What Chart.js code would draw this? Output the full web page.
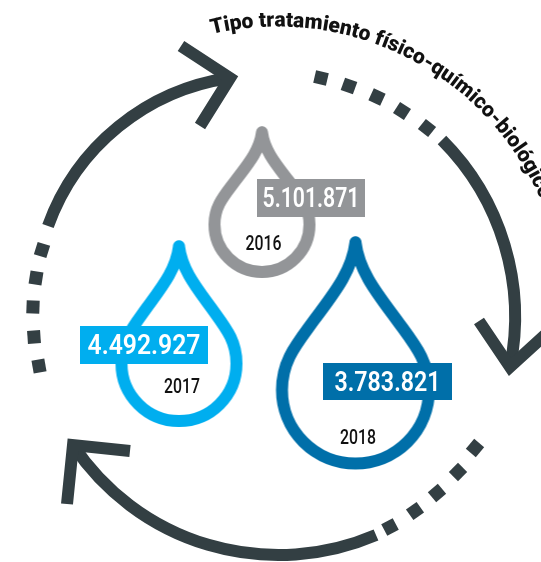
<!DOCTYPE html>
<html>
<head>
<meta charset="utf-8">
<script src="https://cdn.jsdelivr.net/npm/chart.js@4/dist/chart.umd.min.js"></script>
<style>
  html, body { margin: 0; padding: 0; background: #fff; }
  canvas { display: block; }
</style>
</head>
<body>
<canvas id="chart" width="541" height="562"></canvas>
<script>
// dados
const years = ['2016', '2017', '2018'];
const volumes = [5101871, 4492927, 3783821];
const title = 'Tipo tratamiento físico-químico-biológico';

// layout das gotas, em unidades da escala (0-541 / 0-562)
const dropX = [262, 179, 355.5];
const dropY = [224.5, 363.5, 390];
const dropR = [47.5, 57.5, 73.5];
const dropTip = [0.97, 1.02, 1.005];
const dropColors = ['#939598', '#00aeef', '#006fa9'];
const boxes = [[257, 179, 108, 38], [80, 326, 128, 38], [323, 363, 129, 37]];
const boxTextW = [97, 113, 106];
const yearPos = [[263.5, 244], [182, 387], [358, 438]];

const dark = '#333f43';
const STROKE = 12;

// setas: inicio, meio, vertice do arco e as duas pontas
const arrows = [
    { arc: [[48, 226], [127, 120], [230, 78]], arms: [[181, 46], [230, 78], [200, 126]] },
    { arc: [[442, 140], [515, 310], [510, 367]], arms: [[479, 321], [510, 367], [556, 325]] },
    { arc: [[376, 535], [273, 555], [73, 445]], arms: [[130, 451], [73, 445], [67, 504]] }
];
// quadrados pontilhados: x, y, rotacao em graus
const dashes = [
    [321, 78, 13], [349, 86, 20], [377, 97, 25], [402, 111, 33], [427, 128, 38],
    [42, 250, 17], [36, 278, 9], [33, 307, 2], [34, 337, -4], [39, 366, -10],
    [475, 448, -50], [458, 472, -45], [437, 493, -40], [415, 511, -35], [390, 527, -28]
];

// circulo que passa por 3 pontos
function circle3(a, b, c) {
    const d = 2 * (a[0] * (b[1] - c[1]) + b[0] * (c[1] - a[1]) + c[0] * (a[1] - b[1]));
    const s = p => p[0] * p[0] + p[1] * p[1];
    const x = (s(a) * (b[1] - c[1]) + s(b) * (c[1] - a[1]) + s(c) * (a[1] - b[1])) / d;
    const y = (s(a) * (c[0] - b[0]) + s(b) * (a[0] - c[0]) + s(c) * (b[0] - a[0])) / d;
    return { x, y, r: Math.hypot(a[0] - x, a[1] - y) };
}

// desenha a gota num canvas, usado como pointStyle
function dropImage(r, color, k) {
    const size = Math.ceil(2 * (2 * k * r + STROKE + 4));
    const cv = document.createElement('canvas');
    cv.width = size;
    cv.height = size;
    const c = cv.getContext('2d');
    c.translate(size / 2, size / 2);
    c.scale(r, r);
    c.beginPath();
    c.moveTo(0, -2 * k);
    c.bezierCurveTo(0.05, -1.6 * k, 0.3, -1.3 * k, 0.56, -0.95 * k);
    c.bezierCurveTo(0.8, -0.62 * k, 1, -0.4 * k, 1, 0);
    c.arc(0, 0, 1, 0, Math.PI);
    c.bezierCurveTo(-1, -0.4 * k, -0.8, -0.62 * k, -0.56, -0.95 * k);
    c.bezierCurveTo(-0.3, -1.3 * k, -0.05, -1.6 * k, 0, -2 * k);
    c.strokeStyle = color;
    c.lineWidth = STROKE / r;
    c.lineJoin = 'round';
    c.lineCap = 'round';
    c.stroke();
    return cv;
}

const cyclePlugin = {
    id: 'cycle',
    afterDatasetsDraw(chart) {
        const ctx = chart.ctx;
        const sx = chart.scales.x;
        const sy = chart.scales.y;
        const px = p => [sx.getPixelForValue(p[0]), sy.getPixelForValue(p[1])];

        ctx.save();
        ctx.strokeStyle = dark;
        ctx.fillStyle = dark;
        ctx.lineWidth = STROKE;

        arrows.forEach(ar => {
            const [a, m, b] = ar.arc.map(px);
            const o = circle3(a, m, b);
            const a0 = Math.atan2(a[1] - o.y, a[0] - o.x);
            const a1 = Math.atan2(b[1] - o.y, b[0] - o.x);
            const am = Math.atan2(m[1] - o.y, m[0] - o.x);
            // sentido do arco: o que passa pelo ponto do meio
            const norm = v => (v + Math.PI * 4) % (Math.PI * 2);
            const ccw = norm(am - a0) > norm(a1 - a0);
            ctx.beginPath();
            ctx.arc(o.x, o.y, o.r, a0, a1, ccw);
            ctx.lineCap = 'butt';
            ctx.stroke();

            ctx.beginPath();
            ar.arms.map(px).forEach((p, i) => i ? ctx.lineTo(p[0], p[1]) : ctx.moveTo(p[0], p[1]));
            ctx.lineJoin = 'miter';
            ctx.miterLimit = 10;
            ctx.stroke();
        });

        dashes.forEach(d => {
            const p = px(d);
            ctx.save();
            ctx.translate(p[0], p[1]);
            ctx.rotate(d[2] * Math.PI / 180);
            ctx.fillRect(-6.5, -6.5, 13, 13);
            ctx.restore();
        });

        // etiquetas com o volume e o ano
        ctx.textAlign = 'center';
        ctx.textBaseline = 'middle';
        volumes.forEach((v, i) => {
            const b = boxes[i];
            const tl = px(b);
            ctx.fillStyle = dropColors[i];
            ctx.fillRect(tl[0], tl[1], b[2], b[3]);
            ctx.fillStyle = '#fff';
            ctx.font = '600 28px "Roboto", sans-serif';
            ctx.fillText(v.toLocaleString('de-DE'), tl[0] + b[2] / 2, tl[1] + b[3] / 2 + 2, boxTextW[i]);

            const yp = px(yearPos[i]);
            ctx.fillStyle = '#111';
            ctx.font = '500 19.5px "Roboto", sans-serif';
            ctx.fillText(years[i], yp[0], yp[1] + 1, 36);
        });

        // titulo curvo
        const tc = circle3(px([212, 34]), px([370, 42]), px([530, 178]));
        let ang = Math.atan2(34 - tc.y, 212 - tc.x);
        ctx.font = '900 21px "Roboto", sans-serif';
        ctx.fillStyle = '#111';
        ctx.textAlign = 'left';
        ctx.textBaseline = 'alphabetic';
        for (const ch of title) {
            const w = ctx.measureText(ch).width;
            ctx.save();
            ctx.translate(tc.x + tc.r * Math.cos(ang), tc.y + tc.r * Math.sin(ang));
            ctx.rotate(ang + Math.PI / 2);
            ctx.fillText(ch, 0, 0);
            ctx.restore();
            ang += w / tc.r;
        }
        ctx.restore();
    }
};

new Chart(document.getElementById('chart'), {
    type: 'scatter',
    data: {
        labels: years,
        datasets: [{
            label: 'Volumen',
            data: years.map((y, i) => ({ x: dropX[i], y: dropY[i] })),
            pointStyle: dropR.map((r, i) => dropImage(r, dropColors[i], dropTip[i])),
            pointRadius: dropR,
            clip: false
        }]
    },
    options: {
        responsive: false,
        animation: false,
        layout: { padding: 0, autoPadding: false },
        plugins: { legend: { display: false }, tooltip: { enabled: false } },
        scales: {
            x: { type: 'linear', min: 0, max: 541, display: false },
            y: { type: 'linear', min: 0, max: 562, reverse: true, display: false }
        }
    },
    plugins: [cyclePlugin]
});
</script>
</body>
</html>
